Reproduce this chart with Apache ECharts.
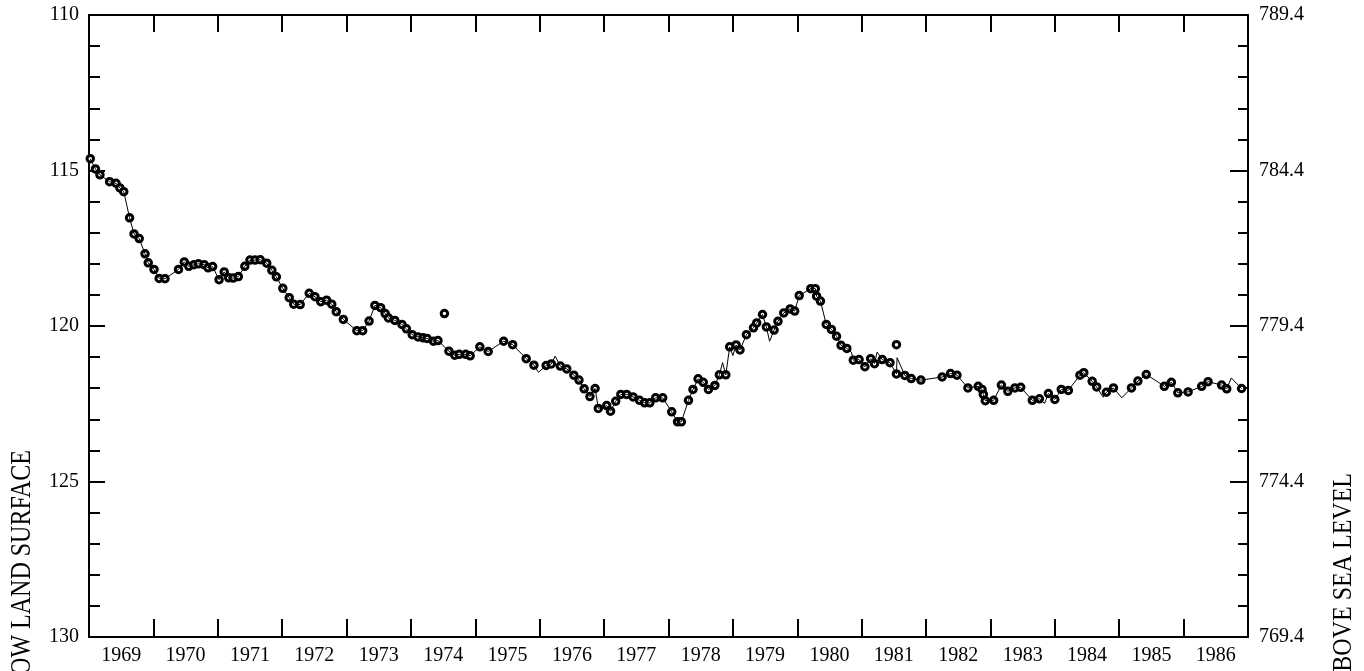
<!DOCTYPE html>
<html>
<head>
<meta charset="utf-8">
<script src="https://cdn.jsdelivr.net/npm/echarts@6/dist/echarts.min.js"></script>
<style>
  html, body { margin: 0; padding: 0; background: #fff; }
  #chart { width: 1364px; height: 671px; }
</style>
</head>
<body>
<div id="chart"></div>
<script>
// 年份标签（每格居中）
const yearLabels = ['1969','1970','1971','1972','1973','1974','1975','1976','1977',
  '1978','1979','1980','1981','1982','1983','1984','1985','1986'];

// 测量点：时间（小数年）和水位埋深（英尺）
const markerYears = [
  1969.02,1969.10,1969.17,1969.32,1969.42,1969.48,1969.54,1969.63,1969.70,1969.78,1969.87,1969.92,
  1970.01,1970.09,1970.18,1970.39,1970.48,1970.55,1970.63,1970.70,1970.79,1970.85,1970.92,
  1971.02,1971.10,1971.17,1971.24,1971.32,1971.42,1971.50,1971.58,1971.66,1971.76,1971.84,1971.91,
  1972.01,1972.11,1972.18,1972.28,1972.42,1972.51,1972.60,1972.69,1972.77,1972.84,1972.95,
  1973.16,1973.25,1973.35,1973.44,1973.53,1973.60,1973.65,1973.75,1973.86,1973.93,
  1974.02,1974.11,1974.19,1974.25,1974.35,1974.42,1974.59,1974.68,1974.75,1974.85,1974.92,
  1975.07,1975.20,1975.44,1975.58,1975.79,1975.91,
  1976.10,1976.18,1976.32,1976.42,1976.53,1976.61,1976.69,1976.78,1976.86,1976.91,
  1977.04,1977.10,1977.18,1977.26,1977.35,1977.45,1977.55,1977.63,1977.71,1977.80,1977.91,
  1978.05,1978.14,1978.20,1978.31,1978.38,1978.46,1978.54,1978.62,1978.72,1978.79,1978.89,1978.95,
  1979.05,1979.11,1979.21,1979.32,1979.37,1979.46,1979.52,1979.64,1979.70,1979.79,1979.89,1979.96,
  1980.03,1980.21,1980.28,1980.30,1980.36,1980.45,1980.53,1980.61,1980.68,1980.77,1980.87,1980.96,
  1981.05,1981.14,1981.20,1981.32,1981.44,1981.54,1981.67,1981.77,1981.92,
  1982.25,1982.38,1982.48,1982.65,1982.81,1982.87,1982.89,1982.92,
  1983.05,1983.17,1983.27,1983.38,1983.47,1983.65,1983.76,1983.90,
  1984.00,1984.10,1984.21,1984.39,1984.45,1984.58,1984.65,1984.80,1984.91,
  1985.19,1985.29,1985.42,1985.70,1985.81,1985.91,
  1986.07,1986.28,1986.38,1986.59,1986.67,1986.90
];
const markerDepths = [
  114.62,114.95,115.14,115.36,115.41,115.56,115.68,116.52,117.04,117.19,117.68,117.97,
  118.18,118.47,118.48,118.18,117.94,118.08,118.03,118.00,118.03,118.13,118.09,
  118.51,118.26,118.45,118.46,118.41,118.08,117.88,117.88,117.87,117.98,118.21,118.42,
  118.79,119.09,119.30,119.31,118.95,119.06,119.22,119.17,119.30,119.54,119.79,
  120.15,120.15,119.84,119.34,119.41,119.60,119.74,119.82,119.95,120.09,
  120.28,120.35,120.38,120.40,120.49,120.47,120.81,120.94,120.91,120.91,120.96,
  120.67,120.82,120.49,120.60,121.05,121.26,
  121.27,121.22,121.29,121.38,121.58,121.74,122.02,122.27,122.01,122.65,
  122.56,122.74,122.42,122.20,122.20,122.28,122.39,122.47,122.47,122.31,122.31,
  122.76,123.08,123.08,122.39,122.04,121.70,121.81,122.04,121.91,121.57,121.57,120.67,
  120.61,120.77,120.28,120.06,119.90,119.63,120.03,120.13,119.85,119.58,119.45,119.52,
  119.02,118.80,118.80,119.04,119.20,119.95,120.11,120.33,120.62,120.72,121.10,121.08,
  121.31,121.05,121.21,121.08,121.18,121.54,121.59,121.69,121.74,
  121.64,121.53,121.58,121.99,121.94,122.04,122.20,122.40,
  122.39,121.90,122.10,121.99,121.97,122.39,122.34,122.17,
  122.36,122.04,122.07,121.58,121.50,121.78,121.96,122.13,121.99,
  121.99,121.77,121.56,121.94,121.81,122.15,
  122.12,121.94,121.79,121.90,122.02,122.01
];

// 偏离曲线的单次测量
const outlierYears = [1974.52, 1981.54];
const outlierDepths = [119.60, 120.60];

// 连续记录中没有测点的尖峰/低谷
const recordYears = [1975.98, 1976.24, 1978.84, 1979.00, 1979.57, 1980.84, 1981.24, 1981.55,
  1983.84, 1984.75, 1985.04, 1985.58, 1986.74];
const recordDepths = [121.49, 120.97, 121.18, 120.95, 120.49, 120.84, 120.84, 121.02,
  122.49, 122.29, 122.31, 121.77, 121.67];

// 右轴：高程 = 899.4 - 埋深
const DATUM = 899.4;

const markerData = markerYears.map((y, i) => [y, markerDepths[i]]);
const outlierData = outlierYears.map((y, i) => [y, outlierDepths[i]]);
const lineData = markerData
  .concat(recordYears.map((y, i) => [y, recordDepths[i]]))
  .sort((a, b) => a[0] - b[0]);

const FONT = '"Liberation Serif", "DejaVu Serif", serif';
const axisLine = { show: true, onZero: false, lineStyle: { color: '#000', width: 2 } };

const chart = echarts.init(document.getElementById('chart'));

const option = {
  backgroundColor: '#fff',
  animation: false,
  grid: { left: 89, top: 15, width: 1159, height: 622, containLabel: false },
  xAxis: [
    {
      type: 'value', position: 'bottom', min: 1969, max: 1987, interval: 1,
      axisLine: axisLine,
      axisTick: { inside: true, length: 18, lineStyle: { color: '#000', width: 2 } },
      axisLabel: { show: false },
      splitLine: { show: false }
    },
    {
      type: 'value', position: 'top', min: 1969, max: 1987, interval: 1,
      axisLine: axisLine,
      axisTick: { inside: true, length: 17, lineStyle: { color: '#000', width: 2 } },
      axisLabel: { show: false },
      splitLine: { show: false }
    },
    {
      type: 'category', position: 'bottom', data: yearLabels, boundaryGap: true,
      axisLine: { show: false },
      axisTick: { show: false },
      axisLabel: { color: '#000', fontSize: 20, fontFamily: FONT, margin: 9, interval: 0 },
      splitLine: { show: false }
    }
  ],
  yAxis: [
    {
      type: 'value', position: 'left', min: 110, max: 130, interval: 5, inverse: true,
      axisLine: axisLine,
      axisTick: { inside: true, length: 16, lineStyle: { color: '#000', width: 2 } },
      minorTick: { show: true, splitNumber: 5, length: 11, lineStyle: { color: '#000', width: 2 } },
      axisLabel: { color: '#000', fontSize: 20, fontFamily: FONT, margin: 10 },
      splitLine: { show: false }
    },
    {
      type: 'value', position: 'right', min: 110, max: 130, interval: 5, inverse: true,
      axisLine: axisLine,
      axisTick: { inside: true, length: 18, lineStyle: { color: '#000', width: 2 } },
      minorTick: { show: true, splitNumber: 5, length: 10, lineStyle: { color: '#000', width: 2 } },
      axisLabel: {
        color: '#000', fontSize: 20, fontFamily: FONT, margin: 11,
        formatter: v => (DATUM - v).toFixed(1)
      },
      splitLine: { show: false }
    }
  ],
  graphic: [
    {
      // 左轴标题，下半截在画面外
      type: 'text', x: 22, y: 450, rotation: Math.PI / 2, scaleY: 1.25,
      style: {
        text: 'DEPTH TO WATER LEVEL, IN FEET BELOW LAND SURFACE',
        fill: '#000', font: '24px ' + FONT, align: 'right', verticalAlign: 'middle'
      }
    },
    {
      type: 'text', x: 1344, y: 473, rotation: Math.PI / 2, scaleY: 1.12,
      style: {
        text: 'WATER LEVEL, IN FEET ABOVE SEA LEVEL',
        fill: '#000', font: '24px ' + FONT, align: 'right', verticalAlign: 'middle'
      }
    }
  ],
  series: [
    {
      name: 'record', type: 'line', xAxisIndex: 0, yAxisIndex: 0,
      data: lineData, showSymbol: false, silent: true,
      lineStyle: { color: '#000', width: 1 }
    },
    {
      name: 'measured', type: 'scatter', xAxisIndex: 0, yAxisIndex: 0,
      data: markerData.concat(outlierData),
      symbol: 'circle', symbolSize: 6.5,
      itemStyle: { color: '#fff', borderColor: '#000', borderWidth: 3, opacity: 1 }
    }
  ]
};

chart.setOption(option);
</script>
</body>
</html>
